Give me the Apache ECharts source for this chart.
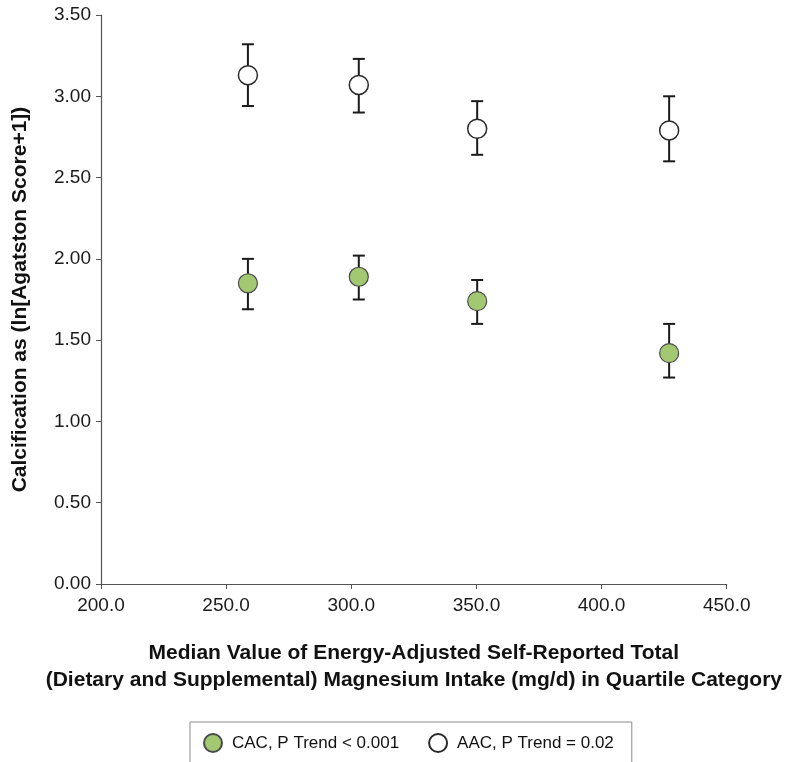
<!DOCTYPE html>
<html>

<head>
    <meta charset="utf-8">
    <script src="https://cdn.jsdelivr.net/npm/echarts@6/dist/echarts.min.js"></script>
    <style>
        body { margin: 0; background: #fff; }
    </style>
</head>

<body>
    <div id="chart" style="width:785px; height:762px;"></div>
</body>

<script type="text/javascript">
    // quartile medians of Mg intake (mg/d)
    var intake = [258.7, 303.0, 350.3, 427.0];

    // CAC, ln(Agatston+1)
    var cacMean = [1.85, 1.89, 1.74, 1.42];
    var cacLow = [1.69, 1.75, 1.60, 1.27];
    var cacHigh = [2.00, 2.02, 1.87, 1.60];

    // AAC, ln(Agatston+1)
    var aacMean = [3.13, 3.07, 2.80, 2.79];
    var aacLow = [2.94, 2.90, 2.64, 2.60];
    var aacHigh = [3.32, 3.23, 2.97, 3.00];

    var names = ['CAC, P Trend < 0.001', 'AAC, P Trend = 0.02'];

    var titleFont = '"Liberation Sans Narrow", "Liberation Sans", Arial, sans-serif';
    var labelFont = '"Liberation Sans", Arial, sans-serif';

    function pairs(xs, ys) {
        return xs.map(function (x, i) { return [x, ys[i]]; });
    }

    function errRows(xs, lo, hi) {
        return xs.map(function (x, i) { return [x, lo[i], hi[i]]; });
    }

    function renderErr(params, api) {
        var x = api.value(0);
        var p1 = api.coord([x, api.value(1)]);
        var p2 = api.coord([x, api.value(2)]);
        var half = 6;
        var style = { stroke: '#1a1a1a', lineWidth: 2 };
        return {
            type: 'group',
            children: [
                { type: 'line', shape: { x1: p1[0], y1: p1[1], x2: p2[0], y2: p2[1] }, style: style },
                { type: 'line', shape: { x1: p1[0] - half, y1: p1[1], x2: p1[0] + half, y2: p1[1] }, style: style },
                { type: 'line', shape: { x1: p2[0] - half, y1: p2[1], x2: p2[0] + half, y2: p2[1] }, style: style }
            ]
        };
    }

    var option = {
        animation: false,
        backgroundColor: '#fff',
        grid: {
            left: 101,
            right: 58,
            top: 15,
            bottom: 178
        },
        legend: {
            data: [names[0], names[1]],
            left: 190,
            top: 722,
            icon: 'circle',
            itemWidth: 18,
            itemHeight: 18,
            itemGap: 29,
            padding: [11, 18, 30, 13],
            borderColor: '#8a8a8a',
            borderWidth: 1,
            textStyle: {
                fontFamily: labelFont,
                fontSize: 17,
                color: '#111',
                padding: [0, 0, 0, 5]
            }
        },
        xAxis: {
            type: 'value',
            min: 200,
            max: 450,
            interval: 50,
            name: 'Median Value of Energy-Adjusted Self-Reported Total\n(Dietary and Supplemental) Magnesium Intake (mg/d) in Quartile Category',
            nameLocation: 'middle',
            nameGap: 56,
            nameTextStyle: {
                fontFamily: titleFont,
                fontWeight: 'bold',
                fontSize: 21,
                lineHeight: 27,
                color: '#111'
            },
            splitLine: { show: false },
            axisLine: { lineStyle: { color: '#555', width: 1.2 } },
            axisTick: { show: true, inside: false, length: 5, lineStyle: { color: '#555' } },
            axisLabel: {
                margin: 12,
                fontFamily: labelFont,
                fontSize: 19,
                color: '#1a1a1a',
                formatter: function (v) { return v.toFixed(1); }
            }
        },
        yAxis: {
            type: 'value',
            min: 0,
            max: 3.5,
            interval: 0.5,
            name: 'Calcification as (ln[Agatston Score+1])',
            nameLocation: 'middle',
            nameRotate: 90,
            nameGap: 70,
            nameTextStyle: {
                fontFamily: titleFont,
                fontWeight: 'bold',
                fontSize: 21,
                color: '#111'
            },
            splitLine: { show: false },
            axisLine: { show: true, lineStyle: { color: '#555', width: 1.2 } },
            axisTick: { show: true, inside: false, length: 5, lineStyle: { color: '#555' } },
            axisLabel: {
                margin: 10,
                fontFamily: labelFont,
                fontSize: 19,
                color: '#1a1a1a',
                formatter: function (v) { return v.toFixed(2); }
            }
        },
        series: [
            {
                type: 'custom',
                renderItem: renderErr,
                encode: { x: 0, y: [1, 2] },
                data: errRows(intake, cacLow, cacHigh),
                z: 2
            },
            {
                type: 'custom',
                renderItem: renderErr,
                encode: { x: 0, y: [1, 2] },
                data: errRows(intake, aacLow, aacHigh),
                z: 2
            },
            {
                name: names[0],
                type: 'scatter',
                symbol: 'circle',
                symbolSize: 19,
                itemStyle: {
                    color: '#a3c872',
                    borderColor: '#4a4a4a',
                    borderWidth: 1.2,
                    opacity: 1
                },
                data: pairs(intake, cacMean),
                z: 5
            },
            {
                name: names[1],
                type: 'scatter',
                symbol: 'circle',
                symbolSize: 19,
                itemStyle: {
                    color: '#ffffff',
                    borderColor: '#2a2a2a',
                    borderWidth: 1.5,
                    opacity: 1
                },
                data: pairs(intake, aacMean),
                z: 5
            }
        ]
    };

    var chart = echarts.init(document.getElementById('chart'));
    chart.setOption(option);
</script>

</html>
